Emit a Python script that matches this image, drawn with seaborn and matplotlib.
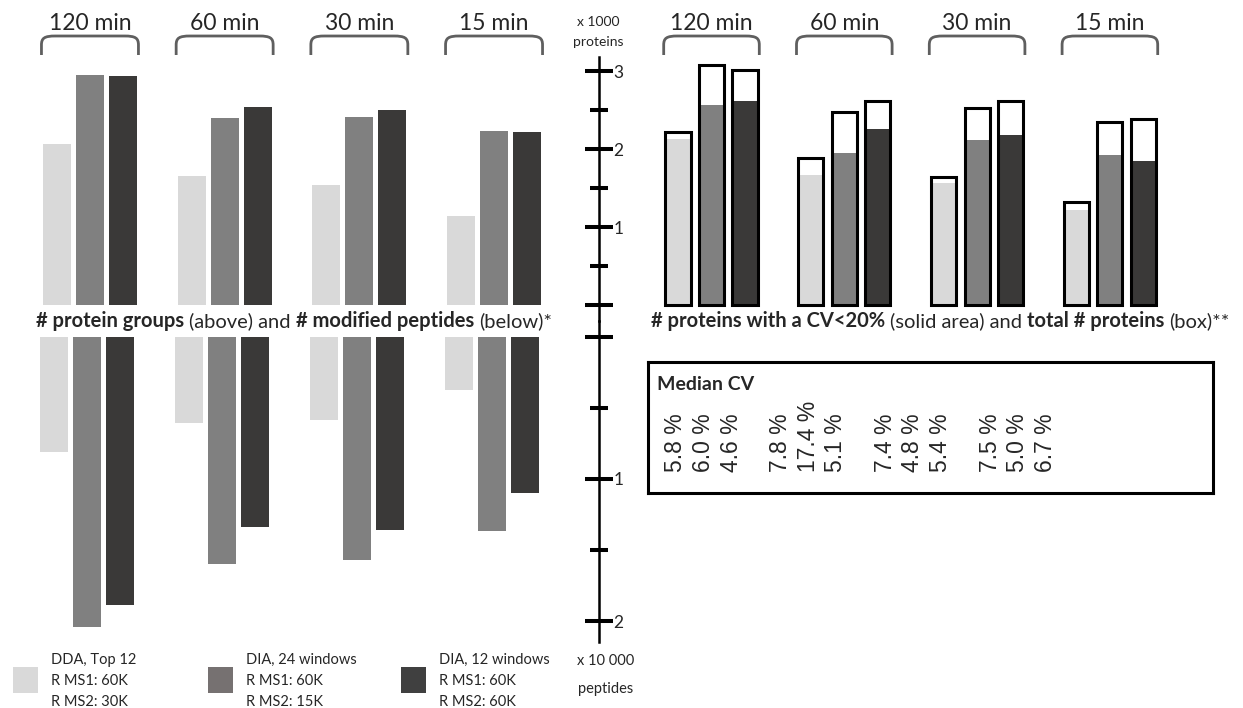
import numpy as np
import pandas as pd
import matplotlib
matplotlib.use("Agg")
import matplotlib.pyplot as plt
import seaborn as sns
from matplotlib.path import Path
from matplotlib.patches import PathPatch, Rectangle
from matplotlib.transforms import IdentityTransform, blended_transform_factory

# ---------------- data ----------------
durations = ["120 min", "60 min", "30 min", "15 min"]
methods = ["DDA, Top 12", "DIA, 24 windows", "DIA, 12 windows"]
method_ms1 = ["R MS1: 60K", "R MS1: 60K", "R MS1: 60K"]
method_ms2 = ["R MS2: 30K", "R MS2: 15K", "R MS2: 60K"]

# protein groups (count)
protein_groups_dda = [2060, 1650, 1540, 1140]
protein_groups_dia24 = [2950, 2400, 2410, 2230]
protein_groups_dia12 = [2940, 2540, 2500, 2220]

# modified peptides (count)
mod_peptides_dda = [8080, 6030, 5820, 3730]
mod_peptides_dia24 = [20400, 15970, 15680, 13640]
mod_peptides_dia12 = [18870, 13360, 13590, 10960]

# total proteins (box) and proteins with CV<20% (solid)
total_proteins_dda = [2220, 1880, 1640, 1320]
total_proteins_dia24 = [3080, 2480, 2520, 2350]
total_proteins_dia12 = [3010, 2620, 2610, 2390]
cv20_proteins_dda = [2130, 1670, 1560, 1220]
cv20_proteins_dia24 = [2560, 1950, 2120, 1920]
cv20_proteins_dia12 = [2610, 2260, 2180, 1850]

# median CV (%)
median_cv_dda = [5.8, 7.8, 7.4, 7.5]
median_cv_dia24 = [6.0, 17.4, 4.8, 5.0]
median_cv_dia12 = [4.6, 5.1, 5.4, 6.7]

protein_ticks = [0, 1000, 2000, 3000]
protein_tick_labels = ["", "1", "2", "3"]
protein_minor = [500, 1500, 2500]
peptide_ticks = [0, 10000, 20000]
peptide_tick_labels = ["", "1", "2"]
peptide_minor = [5000, 15000]

bar_colors = ["#d9d9d9", "#808080", "#3a3938"]
legend_colors = ["#d9d9d9", "#767171", "#404040"]


def make_long(series):
    rows = []
    for m, vals in zip(methods, series):
        for d, v in zip(durations, vals):
            rows.append({"duration": d, "method": m, "value": v})
    return pd.DataFrame(rows)


df_pg = make_long([protein_groups_dda, protein_groups_dia24, protein_groups_dia12])
df_mp = make_long([mod_peptides_dda, mod_peptides_dia24, mod_peptides_dia12])
df_tot = make_long([total_proteins_dda, total_proteins_dia24, total_proteins_dia12])
df_cv20 = make_long([cv20_proteins_dda, cv20_proteins_dia24, cv20_proteins_dia12])
median_cv = [median_cv_dda, median_cv_dia24, median_cv_dia12]

# ---------------- style ----------------
sns.set_theme(style="white")
plt.rcParams["font.family"] = ["Lato", "DejaVu Sans"]

W, H = 1243, 708
fig = plt.figure(figsize=(W / 100, H / 100), dpi=100)
fig.patch.set_facecolor("white")


def px_axes(x0, y0, x1, y1):
    return fig.add_axes([x0 / W, 1 - y1 / H, (x1 - x0) / W, (y1 - y0) / H])


# layout (pixels)
Y_TOP, Y_MID, Y_BOT = 57, 321, 642
ZERO_TOP, PX_PER_PROT = 305, 78 / 1000
ZERO_BOT, PX_PER_PEP = 337, 142 / 10000
top_ylim = (-(Y_MID - ZERO_TOP) / PX_PER_PROT, (ZERO_TOP - Y_TOP) / PX_PER_PROT)
bot_ylim = ((Y_BOT - ZERO_BOT) / PX_PER_PEP, -(ZERO_BOT - Y_MID) / PX_PER_PEP)

LEFT_W = 0.735
LEFT_GAP = 0.15
RIGHT_W = 0.756
RIGHT_GAP = 0.25

# ---------------- top-left: protein groups ----------------
ax_tl = px_axes(22.6, Y_TOP, 561.4, Y_MID)
sns.barplot(data=df_pg, x="duration", y="value", hue="method", order=durations,
            hue_order=methods, palette=bar_colors, saturation=1, width=LEFT_W,
            gap=LEFT_GAP, errorbar=None, linewidth=0, legend=False, ax=ax_tl)
ax_tl.set_xlim(-0.5, 3.5)
ax_tl.set_ylim(*top_ylim)
ax_tl.axis("off")

# ---------------- bottom-left: modified peptides ----------------
ax_bl = px_axes(20.1, Y_MID, 558.9, Y_BOT)
sns.barplot(data=df_mp, x="duration", y="value", hue="method", order=durations,
            hue_order=methods, palette=bar_colors, saturation=1, width=LEFT_W,
            gap=LEFT_GAP, errorbar=None, linewidth=0, legend=False, ax=ax_bl)
ax_bl.set_xlim(-0.5, 3.5)
ax_bl.set_ylim(*bot_ylim)
ax_bl.axis("off")

# ---------------- top-right: CV<20% and total ----------------
ax_tr = px_axes(645.1, Y_TOP, 1176.3, Y_MID)
sns.barplot(data=df_cv20, x="duration", y="value", hue="method", order=durations,
            hue_order=methods, palette=bar_colors, saturation=1, width=RIGHT_W,
            gap=RIGHT_GAP, errorbar=None, linewidth=0, legend=False, ax=ax_tr)
sns.barplot(data=df_tot, x="duration", y="value", hue="method", order=durations,
            hue_order=methods, palette=["black"] * 3, fill=False, width=RIGHT_W,
            gap=RIGHT_GAP, errorbar=None, linewidth=2.2, legend=False, ax=ax_tr)
ax_tr.set_xlim(-0.5, 3.5)
ax_tr.set_ylim(*top_ylim)
ax_tr.axis("off")


# ---------------- central scale axes ----------------
def scale_axis(ax, ylim, ticks, labels, minor):
    ax.set_ylim(*ylim)
    ax.patch.set_visible(False)
    for s in ["left", "top", "bottom"]:
        ax.spines[s].set_visible(False)
    ax.spines["right"].set_linewidth(1.8)
    ax.spines["right"].set_color("black")
    ax.set_xticks([])
    ax.yaxis.tick_right()
    ax.set_yticks(ticks, labels)
    ax.set_yticks(minor, minor=True)
    ax.tick_params(axis="y", which="major", direction="inout", length=20, width=2.9,
                   pad=0.5, labelsize=12.5, color="black", right=True)
    ax.tick_params(axis="y", which="minor", direction="inout", length=13.5, width=2.9,
                   color="black", right=True)


ax_st = px_axes(560, Y_TOP, 599, Y_MID)
scale_axis(ax_st, top_ylim, protein_ticks, protein_tick_labels, protein_minor)
ax_sb = px_axes(560, Y_MID, 599, Y_BOT)
scale_axis(ax_sb, bot_ylim, peptide_ticks, peptide_tick_labels, peptide_minor)

fig.text(598 / W, 1 - 22 / H, "x 1000", ha="center", va="center", fontsize=10)
fig.text(598 / W, 1 - 42 / H, "proteins", ha="center", va="center", fontsize=10)
fig.text(606 / W, 1 - 661 / H, "x 10 000", ha="center", va="center", fontsize=10.5)
fig.text(606 / W, 1 - 689 / H, "peptides", ha="center", va="center", fontsize=10.5)


# ---------------- brackets and duration labels ----------------
def draw_brackets(ax, half=0.36):
    tr_lab = blended_transform_factory(ax.transData, fig.transFigure)
    for i, lab in enumerate(durations):
        x0 = ax.transData.transform((i - half, 0))[0]
        x1 = ax.transData.transform((i + half, 0))[0]
        yb, yt = H - 55, H - 36
        verts = [(x0, yb), (x0, yt - 9),
                 (x0, yt - 2), (x0 + 3, yt), (x0 + 14, yt),
                 (x1 - 14, yt),
                 (x1 - 3, yt), (x1, yt - 2), (x1, yt - 9),
                 (x1, yb)]
        codes = [Path.MOVETO, Path.LINETO,
                 Path.CURVE4, Path.CURVE4, Path.CURVE4,
                 Path.LINETO,
                 Path.CURVE4, Path.CURVE4, Path.CURVE4,
                 Path.LINETO]
        fig.add_artist(PathPatch(Path(verts, codes), transform=IdentityTransform(),
                                 facecolor="none", edgecolor="#5f5f5f", linewidth=2.0))
        ax.text(i, 1 - 23 / H, lab, transform=tr_lab, ha="center", va="center",
                fontsize=16.5, clip_on=False)


draw_brackets(ax_tl)
draw_brackets(ax_tr)

# ---------------- captions with mixed weights ----------------
renderer = fig.canvas.get_renderer()


def text_width(s, size, weight):
    t = fig.text(0, 0, s, fontsize=size, fontweight=weight)
    w = t.get_window_extent(renderer).width
    t.remove()
    return w


def rich_text(x_px, y_px, segments, size):
    x = x_px
    for k, (s, weight) in enumerate(segments):
        t = fig.text(x / W, 1 - y_px / H, s, fontsize=size, fontweight=weight,
                     ha="left", va="center")
        x += t.get_window_extent(renderer).width
        if k < len(segments) - 1:
            x += text_width("x x", size, weight) - text_width("xx", size, weight)


rich_text(36, 321, [("# protein groups", "bold"), ("(above) and", "normal"),
                    ("# modified peptides", "bold"), ("(below)*", "normal")], 14.5)
rich_text(651, 321, [("# proteins with a CV<20%", "bold"), ("(solid area) and", "normal"),
                     ("total # proteins", "bold"), ("(box)**", "normal")], 14.5)

# ---------------- median CV box ----------------
CV_X0, CV_X1, CV_Y0, CV_Y1 = 648, 1213, 362, 493
ax_cv = px_axes(CV_X0, CV_Y0, CV_X1, CV_Y1)
ax_cv.set_xlim(CV_X0, CV_X1)
ax_cv.set_ylim(CV_Y1, CV_Y0)
ax_cv.set_xticks([])
ax_cv.set_yticks([])
for s in ax_cv.spines.values():
    s.set_visible(True)
    s.set_linewidth(2.2)
    s.set_color("black")
ax_cv.patch.set_visible(False)
ax_cv.text(CV_X0 + 9, 385, "Median CV", ha="left", va="center", fontsize=14,
           fontweight="bold")
# text columns inside the box (pixel layout of the table)
CV_COL0, CV_GROUP_STEP, CV_COL_STEP, CV_TEXT_BASE = 676, 104.7, 27.5, 472
for j, vals in enumerate(median_cv):
    for i, v in enumerate(vals):
        ax_cv.text(CV_COL0 + i * CV_GROUP_STEP + j * CV_COL_STEP, CV_TEXT_BASE,
                   f"{v:.1f} %", rotation=90, ha="center", va="bottom", fontsize=16.5,
                   family=["Liberation Sans", "DejaVu Sans"], clip_on=False)

# ---------------- legend ----------------
legend_x = [13, 208, 401]
for k in range(3):
    x = legend_x[k]
    fig.add_artist(Rectangle((x / W, 1 - 693 / H), 25 / W, 26 / H, transform=fig.transFigure,
                             facecolor=legend_colors[k], edgecolor="none"))
    for line, yy in zip([methods[k], method_ms1[k], method_ms2[k]], [660, 681, 702]):
        fig.text((x + 38) / W, 1 - yy / H, line, ha="left", va="center", fontsize=10.5)

fig.savefig("out.png", dpi=100, facecolor="white")
